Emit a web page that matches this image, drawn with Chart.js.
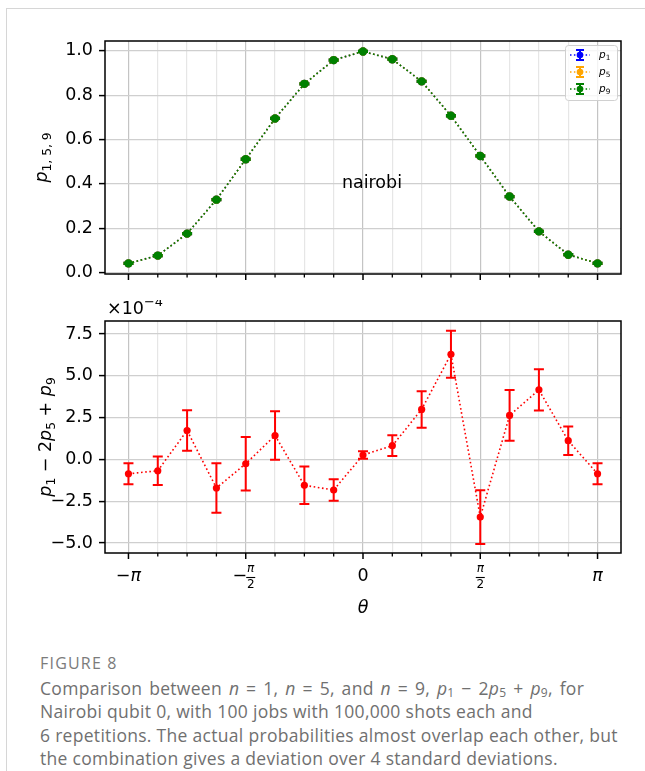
<!DOCTYPE html>
<html>
<head>
<meta charset="utf-8">
<script src="https://cdn.jsdelivr.net/npm/chart.js@4.4.0/dist/chart.umd.min.js"></script>
<style>
  body { margin: 0; background: #fff; }
  #page { position: relative; width: 645px; height: 771px; overflow: hidden; }
  #frame { position: absolute; left: 6px; top: 8px; width: 660px; height: 800px;
           border-left: 1px solid #d6d6d6; border-top: 1px solid #d6d6d6; }
  #c1 { position: absolute; left: 0; top: 0; }
  #c2 { position: absolute; left: 0; top: 300px; }
  #capTitle { position: absolute; left: 40px; top: 652px; font-family: "Open Sans";
              font-size: 16px; color: #7b7b7b; letter-spacing: 1.2px; }
  #capText { position: absolute; left: 40px; top: 677px; width: 620px; font-family: "Open Sans";
             font-size: 17.5px; line-height: 23.4px; color: #707070; white-space: nowrap; letter-spacing: 0.3px; }
  #capText sub { font-size: 12px; vertical-align: -2px; line-height: 0; }
  #capText .wide { word-spacing: 2px; }
</style>
</head>
<body>
<div id="page">
  <div id="frame"></div>
  <canvas id="c1" width="645" height="300"></canvas>
  <canvas id="c2" width="645" height="330"></canvas>
  <div id="capTitle">FIGURE 8</div>
  <div id="capText"><span class="wide">Comparison between <i>n</i> = 1, <i>n</i> = 5, and <i>n</i> = 9, <i>p</i><sub>1</sub> − 2<i>p</i><sub>5</sub> + <i>p</i><sub>9</sub>, for</span><br>Nairobi qubit 0, with 100 jobs with 100,000 shots each and<br>6 repetitions. The actual probabilities almost overlap each other, but<br>the combination gives a deviation over 4 standard deviations.</div>
</div>
<script>
// theta in units of pi, 17 settings from -pi to pi
const thetaInPi = [-1, -0.875, -0.75, -0.625, -0.5, -0.375, -0.25, -0.125, 0,
                   0.125, 0.25, 0.375, 0.5, 0.625, 0.75, 0.875, 1];
const theta = thetaInPi.map(v => v * Math.PI);

// probabilities for n = 1, 5, 9 (they overlap almost exactly)
const p1 = [0.042, 0.077, 0.176, 0.329, 0.511, 0.695, 0.851, 0.958, 0.997,
            0.962, 0.862, 0.707, 0.526, 0.343, 0.186, 0.081, 0.042];
const p5 = [0.042, 0.077, 0.176, 0.329, 0.511, 0.695, 0.851, 0.958, 0.997,
            0.962, 0.862, 0.707, 0.526, 0.343, 0.186, 0.081, 0.042];
const p9 = [0.042, 0.077, 0.176, 0.329, 0.511, 0.695, 0.851, 0.958, 0.997,
            0.962, 0.862, 0.707, 0.526, 0.343, 0.186, 0.081, 0.042];
const pErr = [0.003, 0.003, 0.003, 0.003, 0.003, 0.003, 0.003, 0.003, 0.003,
              0.003, 0.003, 0.003, 0.003, 0.003, 0.003, 0.003, 0.003];

// p1 - 2 p5 + p9, in units of 1e-4
const combo = [-0.86, -0.68, 1.73, -1.71, -0.26, 1.43, -1.55, -1.83, 0.26,
               0.82, 2.99, 6.29, -3.45, 2.63, 4.16, 1.12, -0.86];
const comboErr = [0.63, 0.85, 1.21, 1.48, 1.60, 1.45, 1.12, 0.64, 0.22,
                  0.62, 1.09, 1.40, 1.61, 1.52, 1.23, 0.85, 0.63];

const xTickLabels = ['−π', '−π/2', '0', 'π/2', 'π'];
const topYTicks = [0, 0.2, 0.4, 0.6, 0.8, 1.0];
const topYLabels = ['0.0', '0.2', '0.4', '0.6', '0.8', '1.0'];
const botYTicks = [-5, -2.5, 0, 2.5, 5, 7.5];
const botYLabels = ['−5.0', '−2.5', '0.0', '2.5', '5.0', '7.5'];

const FAM = '"DejaVu Sans"';
const FS = 17.5;
const XMIN = -1.1 * Math.PI, XMAX = 1.1 * Math.PI;

function font(p, size) {
  return (p.it ? 'italic ' : '') + size + 'px ' + FAM;
}

// draw a run of text pieces (italic / subscript / superscript), centred on x
function drawRich(ctx, parts, x, y, size, angle, align) {
  ctx.save();
  ctx.translate(x, y);
  if (angle) ctx.rotate(angle);
  ctx.textBaseline = 'alphabetic';
  ctx.textAlign = 'left';
  ctx.fillStyle = '#000';
  const sz = p => p.sub ? size * 0.7 : p.sup ? size * 0.74 : size;
  let w = 0;
  parts.forEach(p => {
    ctx.font = font(p, sz(p));
    w += ctx.measureText(p.t).width;
  });
  let cx = align === 'left' ? 0 : -w / 2;
  parts.forEach(p => {
    ctx.font = font(p, sz(p));
    const dy = p.sub ? size * 0.22 : p.sup ? -size * 0.48 : 0;
    ctx.fillText(p.t, cx, dy);
    cx += ctx.measureText(p.t).width;
  });
  ctx.restore();
}

const errorBars = {
  id: 'errorBars',
  beforeDatasetDraw(chart, args) {
    const ds = chart.data.datasets[args.index];
    if (!ds.errors) return;
    const xs = chart.scales.x, ys = chart.scales.y, ctx = chart.ctx;
    ctx.save();
    ctx.strokeStyle = ds.borderColor;
    ctx.lineWidth = 2;
    ctx.setLineDash([]);
    ds.data.forEach((pt, i) => {
      const x = xs.getPixelForValue(pt.x);
      const yt = ys.getPixelForValue(pt.y + ds.errors[i]);
      const yb = ys.getPixelForValue(pt.y - ds.errors[i]);
      ctx.beginPath();
      ctx.moveTo(x, yt); ctx.lineTo(x, yb);
      ctx.moveTo(x - 5, yt); ctx.lineTo(x + 5, yt);
      ctx.moveTo(x - 5, yb); ctx.lineTo(x + 5, yb);
      ctx.stroke();
    });
    ctx.restore();
  }
};

function frameAndTicks(chart) {
  const { ctx, chartArea: a } = chart;
  const xs = chart.scales.x;
  ctx.save();
  ctx.strokeStyle = '#000';
  ctx.setLineDash([]);
  // x tick marks (major every pi/2, minor every pi/8)
  xs.ticks.forEach((t, i) => {
    const x = xs.getPixelForValue(t.value);
    const major = i % 4 === 0;
    ctx.lineWidth = major ? 1.5 : 1.3;
    ctx.beginPath();
    ctx.moveTo(x, a.bottom);
    ctx.lineTo(x, a.bottom + (major ? 6 : 3.5));
    ctx.stroke();
  });
  ctx.lineWidth = 1.5;
  ctx.strokeRect(a.left, a.top, a.right - a.left, a.bottom - a.top);
  ctx.restore();
}

function xAxis(axisH) {
  return {
    type: 'linear', min: XMIN, max: XMAX,
    afterBuildTicks: s => { s.ticks = theta.map(v => ({ value: v })); },
    afterFit: s => { s.height = axisH; },
    ticks: { display: false, autoSkip: false },
    border: { display: false },
    grid: {
      drawTicks: false,
      color: c => c.index % 4 === 0 ? '#c4c4c4' : '#e6e6e6',
      lineWidth: 1.2
    }
  };
}

function yAxis(min, max, ticks, labels) {
  return {
    type: 'linear', min, max,
    afterBuildTicks: s => { s.ticks = ticks.map(v => ({ value: v })); },
    afterFit: s => { s.width = 105; },
    ticks: {
      autoSkip: false, padding: 6, color: '#000',
      font: { family: 'DejaVu Sans', size: FS },
      callback: (v, i) => labels[i]
    },
    border: { display: false },
    grid: { color: '#cfcfcf', lineWidth: 1.2, tickLength: 6, tickColor: '#000', tickWidth: 1.5 }
  };
}

function lineSet(label, values, errs, color, order, r) {
  return {
    label, order,
    data: theta.map((x, i) => ({ x, y: values[i] })),
    errors: errs,
    borderColor: color, backgroundColor: color,
    borderWidth: 1.6, borderDash: [1.6, 2.6],
    pointRadius: r, pointHoverRadius: r, pointBorderWidth: 0,
    pointBackgroundColor: color,
    tension: 0, fill: false
  };
}

const topDecor = {
  id: 'topDecor',
  afterDraw(chart) {
    frameAndTicks(chart);
    const ctx = chart.ctx, a = chart.chartArea;
    const xs = chart.scales.x, ys = chart.scales.y;
    ctx.save();
    ctx.font = FS + 'px ' + FAM;
    ctx.fillStyle = '#000';
    ctx.textAlign = 'center';
    ctx.textBaseline = 'middle';
    ctx.fillText('nairobi', xs.getPixelForValue(0.12), ys.getPixelForValue(0.4));
    ctx.restore();
    drawRich(ctx, [{ t: 'p', it: true }, { t: '1, 5, 9', sub: true }], 47, (a.top + a.bottom) / 2, FS, -Math.PI / 2);
    // legend
    const bw = 52, bh = 55, bx = a.right - bw - 4, by = a.top + 4;
    ctx.save();
    ctx.fillStyle = 'rgba(255,255,255,0.8)';
    ctx.strokeStyle = '#d0d0d0';
    ctx.lineWidth = 1;
    ctx.beginPath();
    ctx.roundRect(bx + 0.5, by + 0.5, bw, bh, 3);
    ctx.fill(); ctx.stroke();
    chart.data.datasets.forEach((ds, i) => {
      const yy = by + 10 + i * 17;
      const cx = bx + 15;
      ctx.strokeStyle = ds.borderColor;
      ctx.fillStyle = ds.borderColor;
      ctx.lineWidth = 1.5;
      ctx.setLineDash([1.5, 2.4]);
      ctx.beginPath(); ctx.moveTo(bx + 5, yy); ctx.lineTo(bx + 25, yy); ctx.stroke();
      ctx.setLineDash([]);
      ctx.lineWidth = 2;
      ctx.beginPath();
      ctx.moveTo(cx, yy - 5); ctx.lineTo(cx, yy + 5);
      ctx.moveTo(cx - 4, yy - 5); ctx.lineTo(cx + 4, yy - 5);
      ctx.moveTo(cx - 4, yy + 5); ctx.lineTo(cx + 4, yy + 5);
      ctx.stroke();
      ctx.beginPath(); ctx.arc(cx, yy, 3.3, 0, Math.PI * 2); ctx.fill();
      drawRich(ctx, [{ t: 'p', it: true }, { t: ds.label.slice(1), sub: true }], bx + 34, yy + 3, 10.5, 0, 'left');
    });
    ctx.restore();
  }
};

const bottomDecor = {
  id: 'bottomDecor',
  afterDraw(chart) {
    frameAndTicks(chart);
    const ctx = chart.ctx, a = chart.chartArea, xs = chart.scales.x;
    // x tick labels at the major ticks
    const majors = xs.ticks.filter((t, i) => i % 4 === 0);
    majors.forEach((t, i) => {
      const x = xs.getPixelForValue(t.value);
      const lab = xTickLabels[i];
      const y = a.bottom + 22;
      if (lab.includes('/')) {
        const neg = lab[0] === '−';
        const [num, den] = (neg ? lab.slice(1) : lab).split('/');
        ctx.save();
        ctx.fillStyle = '#000';
        ctx.strokeStyle = '#000';
        ctx.textBaseline = 'middle';
        ctx.textAlign = 'center';
        let fx = x;
        if (neg) {
          ctx.font = FS + 'px ' + FAM;
          fx = x + 5;
          ctx.fillText('−', x - 6, y + 1);
        }
        ctx.font = 'italic 12px ' + FAM;
        ctx.fillText(num, fx, y - 6);
        ctx.font = '12px ' + FAM;
        ctx.fillText(den, fx, y + 10);
        ctx.lineWidth = 1.1;
        ctx.beginPath(); ctx.moveTo(fx - 4.5, y + 2.5); ctx.lineTo(fx + 4.5, y + 2.5); ctx.stroke();
        ctx.restore();
      } else {
        const parts = lab[0] === '−' ? [{ t: '−' }, { t: lab.slice(1), it: true }]
          : [{ t: lab, it: lab === 'π' }];
        drawRich(ctx, parts, x, y + 6, FS, 0);
      }
    });
    drawRich(ctx, [{ t: 'θ', it: true }], (a.left + a.right) / 2, a.bottom + 60, FS, 0);
    drawRich(ctx, [{ t: 'p', it: true }, { t: '1', sub: true }, { t: ' − 2' }, { t: 'p', it: true },
                   { t: '5', sub: true }, { t: ' + ' }, { t: 'p', it: true }, { t: '9', sub: true }],
             51, (a.top + a.bottom) / 2, FS, -Math.PI / 2);
    drawRich(ctx, [{ t: '×10' }, { t: '−4', sup: true }], a.left + 2, a.top - 7, FS, 0, 'left');
  }
};

Chart.register(errorBars);

// top panel: probabilities
new Chart(document.getElementById('c1'), {
  type: 'line',
  data: {
    datasets: [
      lineSet('p1', p1, pErr, '#0000ff', 2, 4.2),
      lineSet('p5', p5, pErr, '#ffa500', 1, 4.2),
      lineSet('p9', p9, pErr, '#008000', 0, 4.2)
    ]
  },
  options: {
    responsive: false, animation: false, devicePixelRatio: 1,
    layout: { padding: { left: 0, right: 24, top: 41, bottom: 0 } },
    scales: { x: xAxis(26), y: yAxis(-0.006, 1.044, topYTicks, topYLabels) },
    plugins: { legend: { display: false }, tooltip: { enabled: false } }
  },
  plugins: [topDecor]
});

// bottom panel: p1 - 2 p5 + p9
new Chart(document.getElementById('c2'), {
  type: 'line',
  data: { datasets: [lineSet('combo', combo, comboErr, '#ff0000', 0, 3.6)] },
  options: {
    responsive: false, animation: false, devicePixelRatio: 1,
    layout: { padding: { left: 0, right: 24, top: 21, bottom: 0 } },
    scales: { x: xAxis(77), y: yAxis(-5.6, 8.28, botYTicks, botYLabels) },
    plugins: { legend: { display: false }, tooltip: { enabled: false } }
  },
  plugins: [bottomDecor]
});
</script>
</body>
</html>
